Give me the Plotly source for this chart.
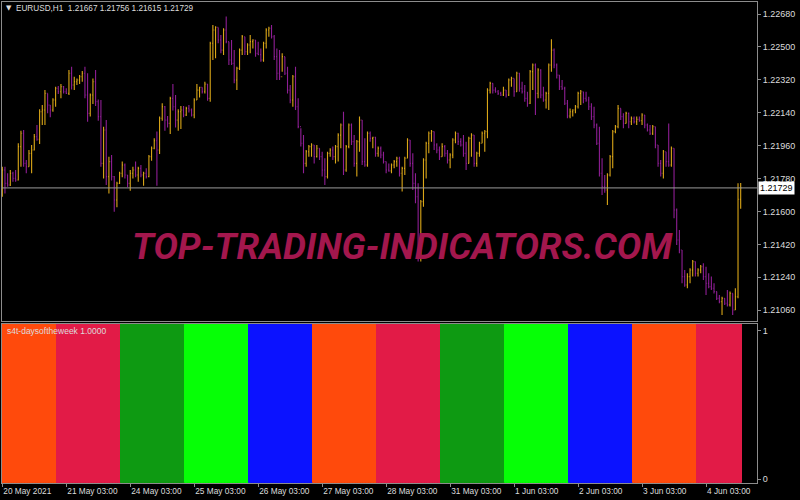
import plotly.graph_objects as go
from datetime import datetime

# ---------------- data ----------------
symbol_header = "EURUSD,H1  1.21667 1.21756 1.21615 1.21729"
indicator_name = "s4t-daysoftheweek 1.0000"

day_dates = ["2021-05-20", "2021-05-21", "2021-05-24", "2021-05-25", "2021-05-26", "2021-05-27",
             "2021-05-28", "2021-05-31", "2021-06-01", "2021-06-02", "2021-06-03", "2021-06-04"]
first_hour = 3
last_hour = 16

tick_labels = ["20 May 2021", "21 May 03:00", "24 May 03:00", "25 May 03:00", "26 May 03:00",
               "27 May 03:00", "28 May 03:00", "31 May 03:00", "1 Jun 03:00", "2 Jun 03:00",
               "3 Jun 03:00", "4 Jun 03:00"]

price_ticks = [1.21060, 1.21240, 1.21420, 1.21600, 1.21780, 1.21960, 1.22140, 1.22320, 1.22500, 1.22680]

first_open = 1.21709

highs = [
    1.21845, 1.21845, 1.21809, 1.21827, 1.21818, 1.21827, 1.21973, 1.22042, 1.22046, 1.21882,
    1.21936, 1.21964, 1.22024, 1.22073, 1.22159, 1.22182, 1.22264, 1.22246, 1.22182, 1.22219,
    1.22283, 1.22286, 1.22297, 1.22286, 1.22274, 1.22374, 1.22392, 1.22337, 1.22328, 1.22346,
    1.22368, 1.22392, 1.22356, 1.22246, 1.22328, 1.22374, 1.22213, 1.22210, 1.22064, 1.22100,
    1.21900, 1.21909, 1.21794, 1.21763, 1.21818, 1.21873, 1.21863, 1.21800, 1.21827, 1.21845,
    1.21873, 1.21845, 1.21854, 1.21818, 1.21836, 1.21909, 1.21955, 1.22000, 1.22037, 1.22119,
    1.22192, 1.22177, 1.22122, 1.22228, 1.22297, 1.22237, 1.22159, 1.22177, 1.22177, 1.22173,
    1.22182, 1.22164, 1.22219, 1.22297, 1.22283, 1.22279, 1.22310, 1.22297, 1.22529, 1.22620,
    1.22614, 1.22607, 1.22565, 1.22602, 1.22666, 1.22529, 1.22538, 1.22483, 1.22392, 1.22492,
    1.22565, 1.22556, 1.22520, 1.22565, 1.22542, 1.22538, 1.22529, 1.22492, 1.22529, 1.22602,
    1.22611, 1.22620, 1.22565, 1.22492, 1.22483, 1.22465, 1.22447, 1.22392, 1.22292, 1.22346,
    1.22392, 1.22219, 1.22055, 1.22018, 1.21936, 1.21964, 1.21973, 1.21964, 1.21964, 1.21946,
    1.21927, 1.21891, 1.21927, 1.21946, 1.21955, 1.21964, 1.22028, 1.22082, 1.22146, 1.21964,
    1.22082, 1.22082, 1.22018, 1.21991, 1.22119, 1.22100, 1.22000, 1.22037, 1.22037, 1.22009,
    1.22009, 1.21955, 1.21955, 1.21927, 1.21873, 1.21863, 1.21863, 1.21882, 1.21900, 1.21900,
    1.21845, 1.21900, 1.22000, 1.21991, 1.21918, 1.21809, 1.21754, 1.21663, 1.21891, 1.21982,
    1.22037, 1.22046, 1.22037, 1.21973, 1.21955, 1.21973, 1.21964, 1.21936, 1.21918, 1.22000,
    1.22037, 1.22031, 1.22000, 1.22018, 1.21982, 1.22009, 1.22028, 1.22018, 1.21927, 1.21982,
    1.22037, 1.22046, 1.22274, 1.22310, 1.22301, 1.22279, 1.22264, 1.22255, 1.22283, 1.22264,
    1.22328, 1.22337, 1.22328, 1.22365, 1.22359, 1.22310, 1.22292, 1.22255, 1.22374, 1.22410,
    1.22410, 1.22383, 1.22378, 1.22283, 1.22255, 1.22410, 1.22542, 1.22492, 1.22410, 1.22346,
    1.22319, 1.22283, 1.22210, 1.22164, 1.22159, 1.22182, 1.22255, 1.22264, 1.22255, 1.22255,
    1.22228, 1.22192, 1.22173, 1.22082, 1.22064, 1.21891, 1.21800, 1.21809, 1.21909, 1.22046,
    1.22073, 1.22182, 1.22164, 1.22137, 1.22146, 1.22141, 1.22119, 1.22119, 1.22119, 1.22119,
    1.22137, 1.22128, 1.22082, 1.22073, 1.22073, 1.22064, 1.21964, 1.21882, 1.21936, 1.21927,
    1.22082, 1.21955, 1.21946, 1.21617, 1.21499, 1.21389, 1.21280, 1.21262, 1.21289, 1.21335,
    1.21326, 1.21289, 1.21307, 1.21317, 1.21298, 1.21262, 1.21244, 1.21207, 1.21162, 1.21143,
    1.21134, 1.21125, 1.21171, 1.21162, 1.21152, 1.21180, 1.21754, 1.21756,
]

lows = [
    1.21681, 1.21699, 1.21736, 1.21740, 1.21763, 1.21763, 1.21769, 1.21845, 1.21845, 1.21809,
    1.21845, 1.21809, 1.21933, 1.21987, 1.21969, 1.22073, 1.22073, 1.22137, 1.22115, 1.22146,
    1.22173, 1.22243, 1.22219, 1.22246, 1.22243, 1.22237, 1.22268, 1.22264, 1.22292, 1.22297,
    1.22310, 1.22219, 1.22091, 1.22119, 1.22188, 1.22177, 1.22097, 1.21845, 1.21781, 1.21745,
    1.21699, 1.21769, 1.21599, 1.21623, 1.21750, 1.21787, 1.21781, 1.21732, 1.21714, 1.21781,
    1.21787, 1.21763, 1.21787, 1.21741, 1.21781, 1.21787, 1.21878, 1.21940, 1.21741, 1.21915,
    1.22097, 1.22042, 1.22060, 1.22024, 1.22152, 1.22060, 1.22042, 1.22051, 1.22115, 1.22122,
    1.22142, 1.22119, 1.22110, 1.22210, 1.22224, 1.22246, 1.22246, 1.22206, 1.22201, 1.22429,
    1.22438, 1.22520, 1.22465, 1.22456, 1.22520, 1.22401, 1.22401, 1.22301, 1.22264, 1.22374,
    1.22456, 1.22456, 1.22456, 1.22465, 1.22492, 1.22447, 1.22456, 1.22419, 1.22419, 1.22492,
    1.22556, 1.22547, 1.22429, 1.22319, 1.22319, 1.22365, 1.22346, 1.22246, 1.22192, 1.22173,
    1.22155, 1.22055, 1.21955, 1.21809, 1.21845, 1.21900, 1.21900, 1.21863, 1.21896, 1.21882,
    1.21791, 1.21745, 1.21781, 1.21900, 1.21882, 1.21863, 1.21873, 1.21946, 1.21800, 1.21818,
    1.21946, 1.21964, 1.21845, 1.21791, 1.21927, 1.21854, 1.21845, 1.21845, 1.21982, 1.21946,
    1.21900, 1.21900, 1.21891, 1.21863, 1.21809, 1.21818, 1.21809, 1.21836, 1.21845, 1.21791,
    1.21709, 1.21800, 1.21891, 1.21845, 1.21718, 1.21645, 1.21326, 1.21326, 1.21626, 1.21781,
    1.21918, 1.21982, 1.21936, 1.21918, 1.21882, 1.21900, 1.21900, 1.21863, 1.21836, 1.21891,
    1.21973, 1.21964, 1.21955, 1.21900, 1.21827, 1.21863, 1.21900, 1.21845, 1.21845, 1.21900,
    1.21973, 1.21927, 1.22000, 1.22246, 1.22246, 1.22250, 1.22237, 1.22232, 1.22232, 1.22224,
    1.22232, 1.22283, 1.22228, 1.22255, 1.22255, 1.22246, 1.22201, 1.22173, 1.22188, 1.22264,
    1.22128, 1.22219, 1.22219, 1.22201, 1.22164, 1.22155, 1.22365, 1.22383, 1.22328, 1.22264,
    1.22264, 1.22182, 1.22110, 1.22110, 1.22119, 1.22137, 1.22164, 1.22182, 1.22192, 1.22201,
    1.22155, 1.22100, 1.22055, 1.21964, 1.21791, 1.21690, 1.21703, 1.21636, 1.21791, 1.21836,
    1.22028, 1.22055, 1.22100, 1.22055, 1.22082, 1.22055, 1.22073, 1.22082, 1.22073, 1.22091,
    1.22073, 1.22055, 1.22037, 1.22018, 1.22018, 1.21946, 1.21845, 1.21791, 1.21781, 1.21845,
    1.21845, 1.21845, 1.21563, 1.21417, 1.21371, 1.21207, 1.21189, 1.21180, 1.21207, 1.21244,
    1.21244, 1.21244, 1.21262, 1.21225, 1.21143, 1.21180, 1.21171, 1.21152, 1.21116, 1.21098,
    1.21034, 1.21089, 1.21080, 1.21080, 1.21034, 1.21061, 1.21125, 1.21615,
]

closes = [
    1.21827, 1.21754, 1.21745, 1.21809, 1.21781, 1.21772, 1.21955, 1.22028, 1.21863, 1.21845,
    1.21918, 1.21936, 1.22009, 1.21995, 1.22146, 1.22155, 1.22246, 1.22182, 1.22155, 1.22210,
    1.22274, 1.22255, 1.22283, 1.22255, 1.22246, 1.22356, 1.22292, 1.22310, 1.22319, 1.22337,
    1.22356, 1.22237, 1.22137, 1.22237, 1.22310, 1.22201, 1.22119, 1.21863, 1.22046, 1.21791,
    1.21873, 1.21791, 1.21663, 1.21754, 1.21809, 1.21854, 1.21800, 1.21754, 1.21809, 1.21827,
    1.21800, 1.21836, 1.21800, 1.21809, 1.21791, 1.21900, 1.21946, 1.21987, 1.21936, 1.22110,
    1.22173, 1.22100, 1.22082, 1.22219, 1.22173, 1.22100, 1.22146, 1.22155, 1.22128, 1.22164,
    1.22155, 1.22128, 1.22210, 1.22264, 1.22279, 1.22255, 1.22297, 1.22219, 1.22520, 1.22593,
    1.22607, 1.22538, 1.22483, 1.22593, 1.22529, 1.22429, 1.22410, 1.22319, 1.22383, 1.22483,
    1.22556, 1.22474, 1.22511, 1.22529, 1.22538, 1.22465, 1.22458, 1.22429, 1.22520, 1.22593,
    1.22602, 1.22556, 1.22447, 1.22356, 1.22337, 1.22447, 1.22356, 1.22264, 1.22210, 1.22337,
    1.22173, 1.22064, 1.21973, 1.21863, 1.21927, 1.21955, 1.21964, 1.21900, 1.21946, 1.21900,
    1.21827, 1.21791, 1.21918, 1.21936, 1.21900, 1.21955, 1.22018, 1.22073, 1.21827, 1.21955,
    1.22073, 1.21982, 1.21863, 1.21982, 1.22100, 1.21873, 1.21854, 1.22028, 1.22000, 1.22006,
    1.21918, 1.21946, 1.21909, 1.21873, 1.21827, 1.21822, 1.21854, 1.21873, 1.21891, 1.21809,
    1.21836, 1.21891, 1.21991, 1.21863, 1.21754, 1.21681, 1.21353, 1.21654, 1.21882, 1.21973,
    1.22028, 1.22037, 1.21964, 1.21936, 1.21900, 1.21955, 1.21918, 1.21882, 1.21909, 1.21991,
    1.22028, 1.21982, 1.21964, 1.21918, 1.21863, 1.22000, 1.22018, 1.21863, 1.21918, 1.21973,
    1.22028, 1.22037, 1.22264, 1.22301, 1.22264, 1.22255, 1.22246, 1.22237, 1.22264, 1.22237,
    1.22319, 1.22328, 1.22255, 1.22356, 1.22274, 1.22255, 1.22219, 1.22192, 1.22365, 1.22401,
    1.22246, 1.22374, 1.22237, 1.22210, 1.22246, 1.22401, 1.22483, 1.22401, 1.22346, 1.22283,
    1.22274, 1.22192, 1.22122, 1.22146, 1.22155, 1.22173, 1.22246, 1.22255, 1.22219, 1.22210,
    1.22173, 1.22119, 1.22073, 1.21973, 1.21809, 1.21736, 1.21718, 1.21800, 1.21900, 1.22037,
    1.22064, 1.22164, 1.22119, 1.22082, 1.22137, 1.22091, 1.22110, 1.22091, 1.22104, 1.22097,
    1.22128, 1.22073, 1.22046, 1.22028, 1.22064, 1.21964, 1.21863, 1.21809, 1.21927, 1.21873,
    1.21854, 1.21946, 1.21608, 1.21444, 1.21389, 1.21244, 1.21198, 1.21244, 1.21280, 1.21326,
    1.21262, 1.21280, 1.21298, 1.21244, 1.21207, 1.21189, 1.21180, 1.21162, 1.21125, 1.21107,
    1.21125, 1.21098, 1.21089, 1.21152, 1.21061, 1.21134, 1.21667, 1.21729,
]

indicator_level = 1.0

# weekday -> colour of the "days of the week" histogram
weekday_colors = {0: "#0E9A12", 1: "#06FF06", 2: "#0B12FF", 3: "#FF4A0C", 4: "#E21B47"}

# ---------------- build series ----------------
times = []
bar_colors = []
for i, d in enumerate(day_dates):
    h0 = first_hour if i == 0 else 0
    h1 = last_hour if i == len(day_dates) - 1 else 23
    wd = datetime.strptime(d, "%Y-%m-%d").weekday()
    for h in range(h0, h1 + 1):
        times.append(f"{d} {h:02d}:00")
        bar_colors.append(weekday_colors[wd])

n = len(times)
assert len(highs) == n and len(lows) == n and len(closes) == n, (n, len(highs), len(lows), len(closes))
opens = [first_open] + closes[:-1]
tick_vals = [f"{d} 03:00" for d in day_dates]
indicator = [indicator_level] * n

UP = "#DAA618"
DOWN = "#8E1E94"
FG = "#DCDCDC"
FRAME = "#8C8C8C"
FONT = "Liberation Sans"

fig = go.Figure()
fig.add_trace(go.Ohlc(
    x=times, open=opens, high=highs, low=lows, close=closes,
    increasing=dict(line=dict(color=UP, width=1.1)),
    decreasing=dict(line=dict(color=DOWN, width=1.1)),
    tickwidth=0.3, xaxis="x", yaxis="y", hoverinfo="skip", showlegend=False,
))
fig.add_trace(go.Bar(
    x=times, y=indicator, width=1,
    marker=dict(color=bar_colors, line=dict(color=bar_colors, width=1)),
    xaxis="x2", yaxis="y2", hoverinfo="skip", showlegend=False,
))

last_close = closes[-1]

fig.update_layout(
    width=800, height=500,
    paper_bgcolor="black", plot_bgcolor="black",
    margin=dict(l=2, r=43, t=2, b=17, autoexpand=False),
    bargap=0,
    font=dict(family=FONT, size=9, color=FG),
    xaxis=dict(
        type="category", domain=[0, 1], anchor="y", range=[-0.11, 283.12],
        showticklabels=False, ticks="", showgrid=False, zeroline=False,
        showline=True, mirror=True, linecolor=FRAME, linewidth=1,
        rangeslider=dict(visible=False),
    ),
    xaxis2=dict(
        type="category", domain=[0, 1], anchor="y2", matches="x",
        tickmode="array", tickvals=tick_vals, ticktext=tick_labels,
        ticks="outside", ticklen=3, tickcolor=FRAME, ticklabelposition="outside right",
        tickfont=dict(family=FONT, size=8.3, color=FG),
        showgrid=False, zeroline=False,
        showline=True, mirror=True, linecolor=FRAME, linewidth=1,
    ),
    yaxis=dict(
        domain=[0.3368, 1], anchor="x", side="right", range=[1.21001, 1.22746],
        tickmode="array", tickvals=price_ticks, ticktext=[f"{v:.5f}" for v in price_ticks],
        ticks="outside", ticklen=3, tickcolor=FRAME,
        tickfont=dict(family=FONT, size=9, color=FG),
        showgrid=False, zeroline=False,
        showline=True, mirror=True, linecolor=FRAME, linewidth=1,
    ),
    yaxis2=dict(
        domain=[0, 0.3306], anchor="x2", side="right", range=[0, 1],
        tickmode="array", tickvals=[0.025, 0.956], ticktext=["0", "1"],
        ticks="outside", ticklen=3, tickcolor=FRAME,
        tickfont=dict(family=FONT, size=9, color=FG),
        showgrid=False, zeroline=False,
        showline=True, mirror=True, linecolor=FRAME, linewidth=1,
    ),
    shapes=[dict(type="line", xref="x domain", x0=0, x1=1, yref="y", y0=last_close, y1=last_close,
                 line=dict(color="#9A9A9A", width=1), layer="above")],
    annotations=[
        dict(text="▼", xref="paper", yref="paper", x=0.002, y=0.9875, xanchor="left", yanchor="middle",
             showarrow=False, font=dict(family="DejaVu Sans", size=7, color=FG)),
        dict(text=symbol_header, xref="paper", yref="paper", x=0.0159, y=0.9875, xanchor="left",
             yanchor="middle", showarrow=False, font=dict(family=FONT, size=8.2, color=FG)),
        dict(text=f"{last_close:.5f}", xref="paper", yref="y", x=1, y=last_close, xanchor="left",
             yanchor="middle", xshift=1, showarrow=False, bgcolor="white", borderpad=1,
             font=dict(family=FONT, size=9, color="black")),
        dict(text=indicator_name, xref="paper", yref="paper", x=0.004, y=0.316, xanchor="left",
             yanchor="middle", showarrow=False, font=dict(family=FONT, size=8.5, color=FG)),
        dict(text="<b><i>TOP-TRADING-INDICATORS.COM</i></b>", xref="paper", yref="paper",
             x=0.53, y=0.4927, xanchor="center", yanchor="middle", showarrow=False,
             font=dict(family="Roboto", size=36.5, color="#A3174D")),
    ],
)

fig.write_html(
    "out.html",
    config={"displayModeBar": False},
    post_script="document.body.style.margin='0';document.body.style.padding='0';"
                "document.body.style.background='black';document.body.style.overflow='hidden';",
)
